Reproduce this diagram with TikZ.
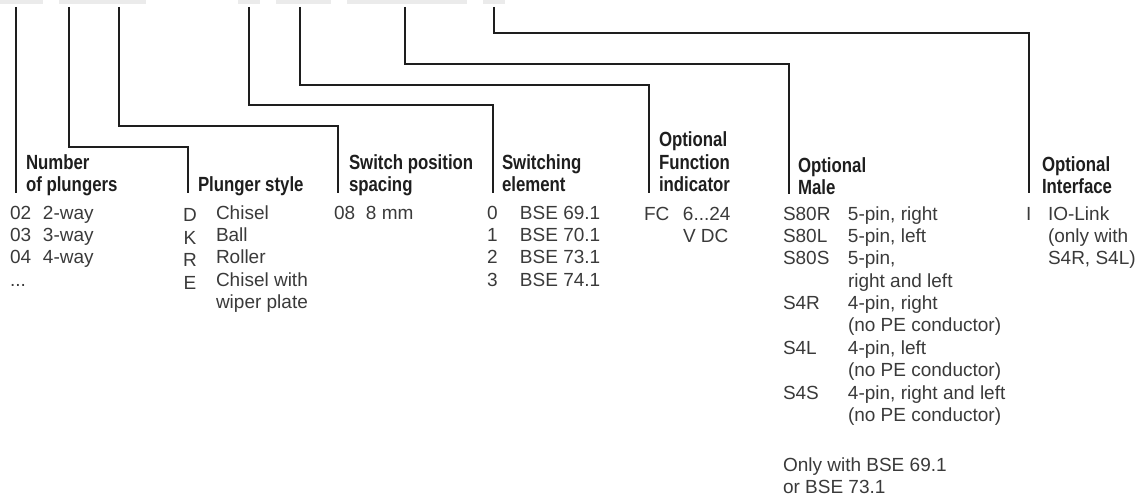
\documentclass[tikz,border=0pt]{standalone}
\usepackage{fontspec}
\setmainfont{Liberation Sans}
\newfontfamily\headfont{Liberation Sans Bold}[FakeStretch=0.82]
\usepackage{array}
\definecolor{barfill}{HTML}{EBEBEB}
\definecolor{txt}{HTML}{3A3A3A}
\definecolor{ink}{HTML}{1E1E1E}
\tikzset{
  topbar/.style={fill=barfill, draw=none, inner sep=0pt, outer sep=0pt, anchor=north west, minimum height=4.5pt},
  conn/.style={draw=ink, line width=1.2pt},
  head/.style={anchor=base west, inner sep=0pt, outer sep=0pt, text=ink, font=\headfont\fontsize{20.5}{22.5}\selectfont},
  body/.style={anchor=base west, inner sep=0pt, outer sep=0pt, text=txt, font=\fontsize{19}{22.4}\selectfont},
}
\begin{document}
\begin{tikzpicture}[x=1pt,y=-1pt]
\useasboundingbox (0,0) rectangle (1148,497);

% top bars
\node[topbar, minimum width=43pt]  (b1) at (0,0) {};
\node[topbar, minimum width=87pt]  (b2) at (59,0) {};
\node[topbar, minimum width=22pt]  (b3) at (238,0) {};
\node[topbar, minimum width=55pt]  (b4) at (276,0) {};
\node[topbar, minimum width=120pt] (b5) at (347,0) {};
\node[topbar, minimum width=22pt]  (b6) at (483,0) {};

% headings
\node[head] (h1) at (26,192) {\begin{tabular}[b]{@{}l@{}}Number\\of plungers\end{tabular}};
\node[head] (h2) at (198,192) {Plunger style};
\node[head] (h3) at (349,192) {\begin{tabular}[b]{@{}l@{}}Switch position\\spacing\end{tabular}};
\node[head] (h4) at (502,192) {\begin{tabular}[b]{@{}l@{}}Switching\\element\end{tabular}};
\node[head] (h5) at (659,192) {\begin{tabular}[b]{@{}l@{}}Optional\\Function\\indicator\end{tabular}};
\node[head] (h6) at (798,195) {\begin{tabular}[b]{@{}l@{}}Optional\\Male\end{tabular}};
\node[head] (h7) at (1042,194) {\begin{tabular}[b]{@{}l@{}}Optional\\Interface\end{tabular}};

% connector points
\coordinate (s1) at (16,7);   \coordinate (e1) at (16,193);
\coordinate (s2) at (69,7);   \coordinate (k2) at (188,147);  \coordinate (e2) at (188,193);
\coordinate (s3) at (119,7);  \coordinate (k3) at (338,126);  \coordinate (e3) at (338,193);
\coordinate (s4) at (249,7);  \coordinate (k4) at (493,105);  \coordinate (e4) at (493,193);
\coordinate (s5) at (300,7);  \coordinate (k5) at (649,85);   \coordinate (e5) at (649,193);
\coordinate (s6) at (405,7);  \coordinate (k6) at (789,64);   \coordinate (e6) at (789,194);
\coordinate (s7) at (494,7);  \coordinate (k7) at (1029,33);  \coordinate (e7) at (1029,193);

\draw[conn] (s1) -- (e1);
\draw[conn] (s2) |- (k2) -- (e2);
\draw[conn] (s3) |- (k3) -- (e3);
\draw[conn] (s4) |- (k4) -- (e4);
\draw[conn] (s5) |- (k5) -- (e5);
\draw[conn] (s6) |- (k6) -- (e6);
\draw[conn] (s7) |- (k7) -- (e7);

% body texts
\node[body] (t1) at (10,219) {\begin{tabular}[t]{@{}p{33pt}@{}l@{}}02&2-way\\03&3-way\\04&4-way\\...&\end{tabular}};
\node[body, anchor=base] (t2c) at (190,222) {\begin{tabular}[t]{@{}c@{}}D\\K\\R\\E\end{tabular}};
\node[body] (t2d) at (216,219) {\begin{tabular}[t]{@{}l@{}}Chisel\\Ball\\Roller\\Chisel with\\wiper plate\end{tabular}};
\node[body] (t3) at (334,219) {\begin{tabular}[t]{@{}p{32pt}@{}l@{}}08&8 mm\end{tabular}};
\node[body] (t4) at (487,219) {\begin{tabular}[t]{@{}p{33pt}@{}l@{}}0&BSE 69.1\\1&BSE 70.1\\2&BSE 73.1\\3&BSE 74.1\end{tabular}};
\node[body] (t5) at (644,220) {\begin{tabular}[t]{@{}p{39pt}@{}l@{}}FC&6...24\\&V DC\end{tabular}};
\node[body] (t6) at (783,220) {\begin{tabular}[t]{@{}p{65pt}@{}l@{}}S80R&5-pin, right\\S80L&5-pin, left\\S80S&5-pin,\\&right and left\\S4R&4-pin, right\\&(no PE conductor)\\S4L&4-pin, left\\&(no PE conductor)\\S4S&4-pin, right and left\\&(no PE conductor)\end{tabular}};
\node[body] (t6n) at (783,471) {Only with BSE 69.1};
\node[body] (t6o) at (783,493) {or BSE 73.1};
\node[body] (t7) at (1026,220) {\begin{tabular}[t]{@{}p{22pt}@{}l@{}}I&IO-Link\\&(only with\\&S4R, S4L)\end{tabular}};
\end{tikzpicture}
\end{document}
